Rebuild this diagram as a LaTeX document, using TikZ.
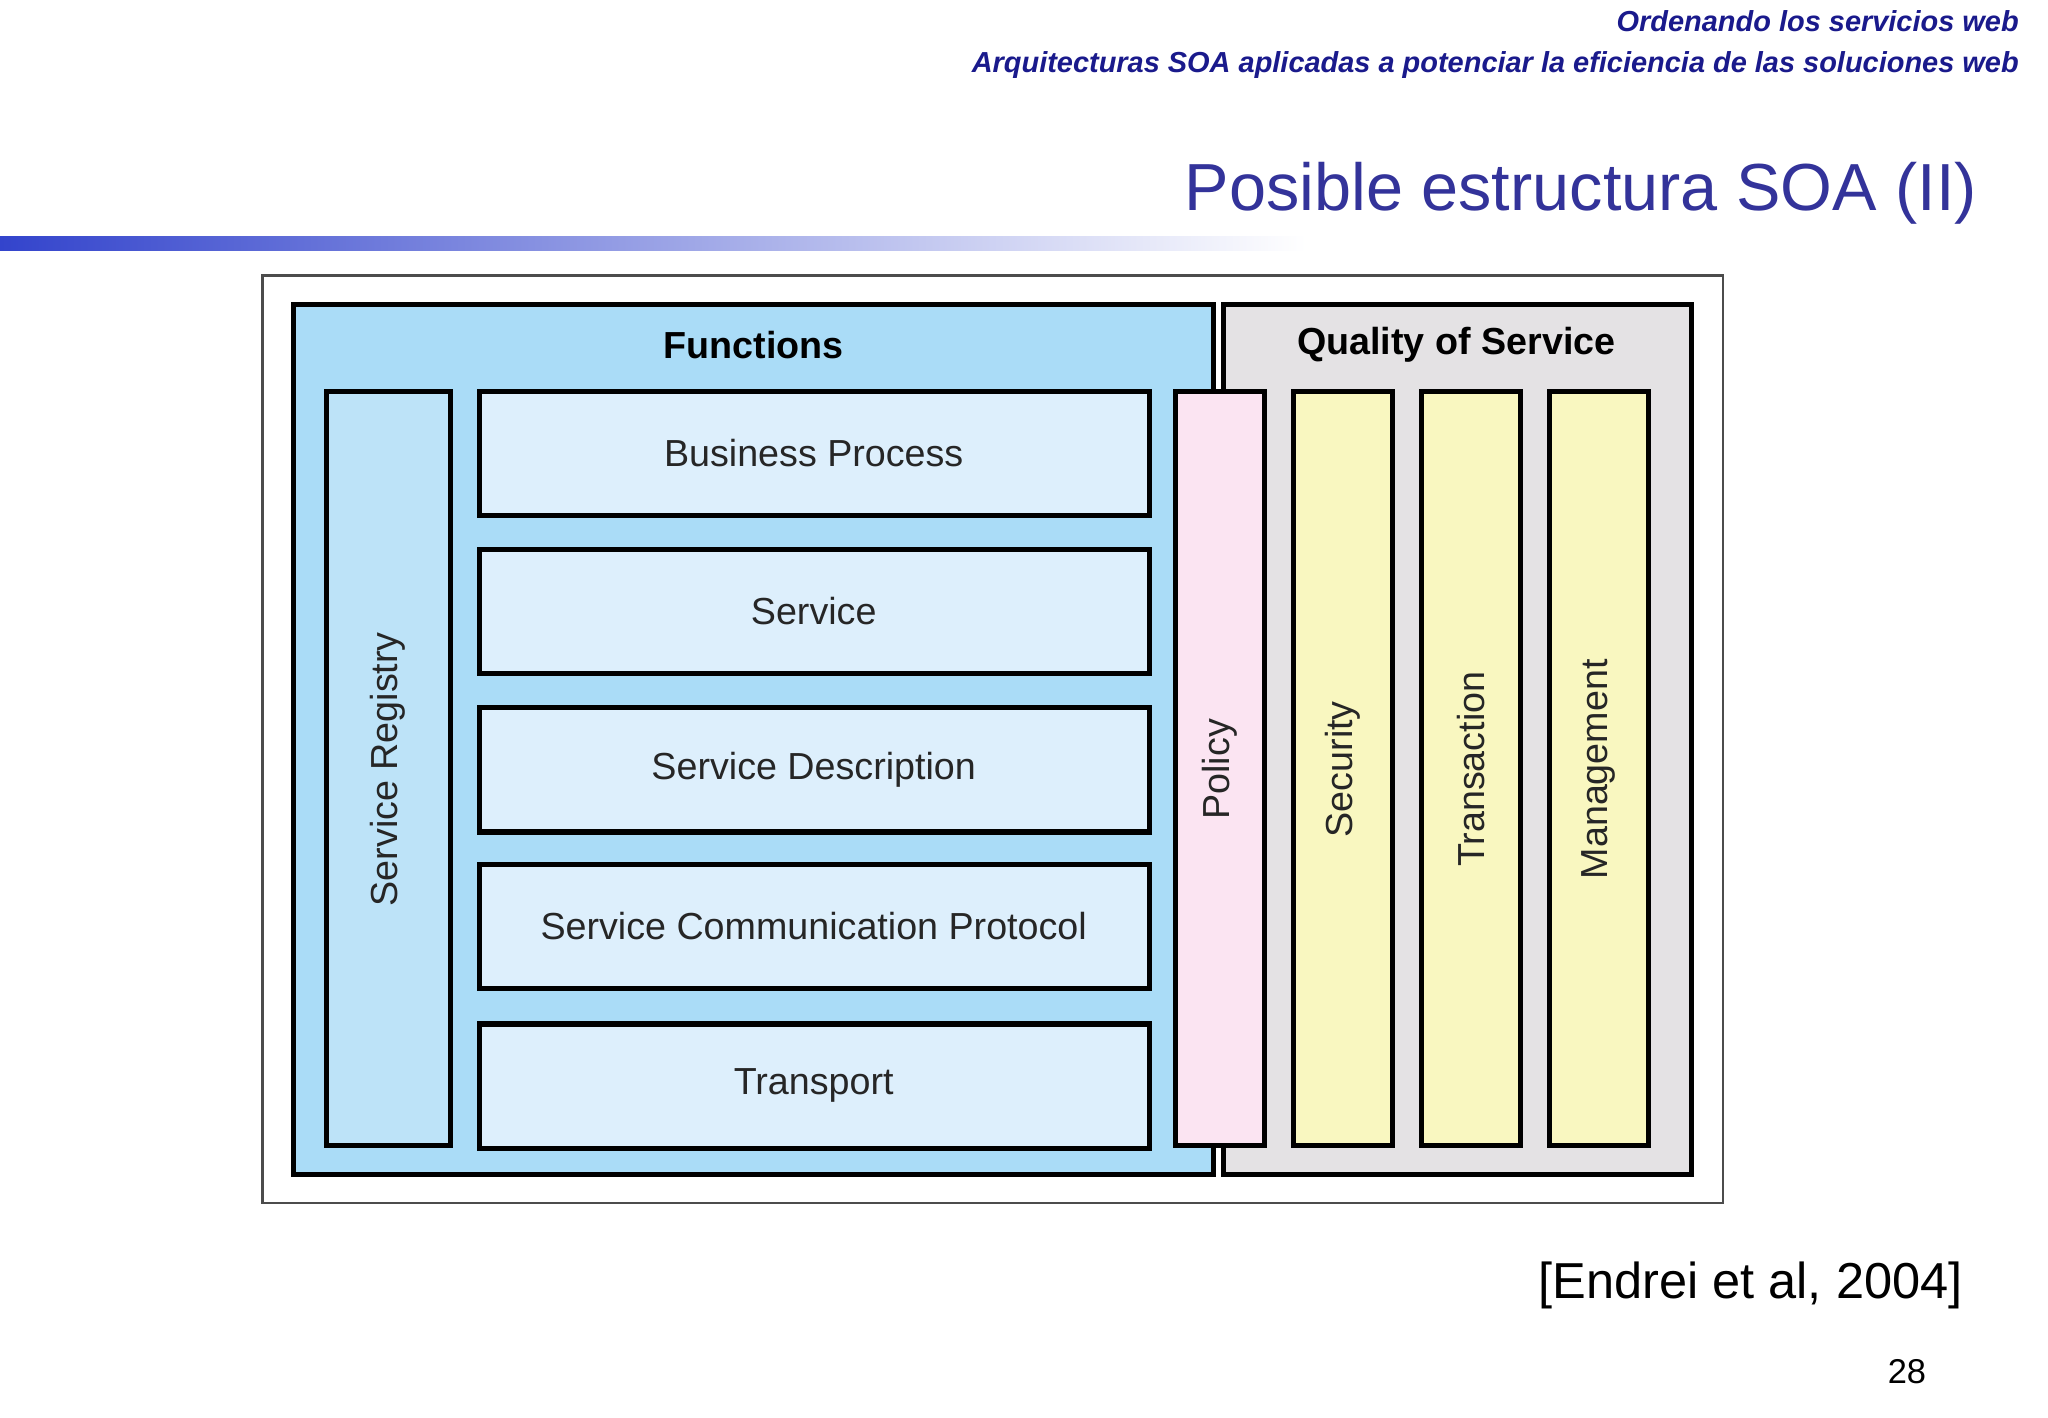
\documentclass[tikz,border=0pt]{standalone}
\usepackage{fontspec}
\setmainfont{Liberation Sans}
\newfontfamily\titlef{Liberation Sans}
\begin{document}
\begin{tikzpicture}[x=0.01cm,y=-0.01cm,
  box/.style={draw=black,line width=1.1pt,inner sep=0pt},
  lbl/.style={font=\fontsize{8.2}{10}\selectfont,text=black!85},
  vlbl/.style={lbl,rotate=90}]
\definecolor{navy}{HTML}{1A1A8C}
\definecolor{ttl}{HTML}{33339A}
\definecolor{fun}{HTML}{AADCF7}
\definecolor{reg}{HTML}{BDE3F8}
\definecolor{lay}{HTML}{DDEFFC}
\definecolor{qos}{HTML}{E4E2E4}
\definecolor{pol}{HTML}{FBE4F2}
\definecolor{yel}{HTML}{F9F7C0}
\definecolor{bar}{HTML}{3344CC}
\useasboundingbox (0,0) rectangle (1568,1085);
\fill[white] (0,0) rectangle (1568,1085);
\node[anchor=east,font=\fontsize{6.3}{7}\selectfont\bfseries\itshape,text=navy] (h1) at (1558,16) {Ordenando los servicios web};
\node[anchor=east,font=\fontsize{6.3}{7}\selectfont\bfseries\itshape,text=navy] (h2) at (1558,50) {Arquitecturas SOA aplicadas a potenciar la eficiencia de las soluciones web};
\node[anchor=east,font=\titlef\fontsize{14.5}{17}\selectfont,text=ttl] (title) at (1526,148) {Posible estructura SOA (II)};
\shade[left color=bar,right color=white] (0,181) rectangle (1000,192);
\fill[white] (1000,181) rectangle (1568,192);
\draw[black!70,line width=0.5pt] (201,211) rectangle (1319,921);
\draw[box,fill=fun] (225,233) rectangle (929,899);
\draw[box,fill=qos] (937,233) rectangle (1295,899);
\node[font=\fontsize{8.2}{10}\selectfont\bfseries] (fn) at (577,264) {Functions};
\node[font=\fontsize{8.2}{10}\selectfont\bfseries] (qs) at (1115,264) {Quality of Service};
\draw[box,fill=reg] (250,300) rectangle (345,877);
\node[vlbl] (sr) at (297,589) {Service Registry};
\foreach \y/\t/\n in {300/Business Process/bp,421/Service/sv,542/Service Description/sd,662/Service Communication Protocol/sc,784/Transport/tr}{
  \draw[box,fill=lay] (367,\y) rectangle (880,\y+95);
  \node[lbl] (\n) at (623,\y+47) {\t};
}
\draw[box,fill=pol] (900,300) rectangle (968,877);
\node[vlbl] (po) at (934,589) {Policy};
\foreach \x/\t/\n in {990/Security/se,1088/Transaction/ta,1186/Management/mg}{
  \draw[box,fill=yel] (\x,300) rectangle (\x+76,877);
  \node[vlbl] (\n) at (\x+38,589) {\t};
}
\node[anchor=east,font=\titlef\fontsize{11}{13}\selectfont] (ref) at (1515,984) {[Endrei et al, 2004]};
\node[font=\titlef\fontsize{7.5}{9}\selectfont] (pg) at (1460,1050) {28};
\end{tikzpicture}
\end{document}
